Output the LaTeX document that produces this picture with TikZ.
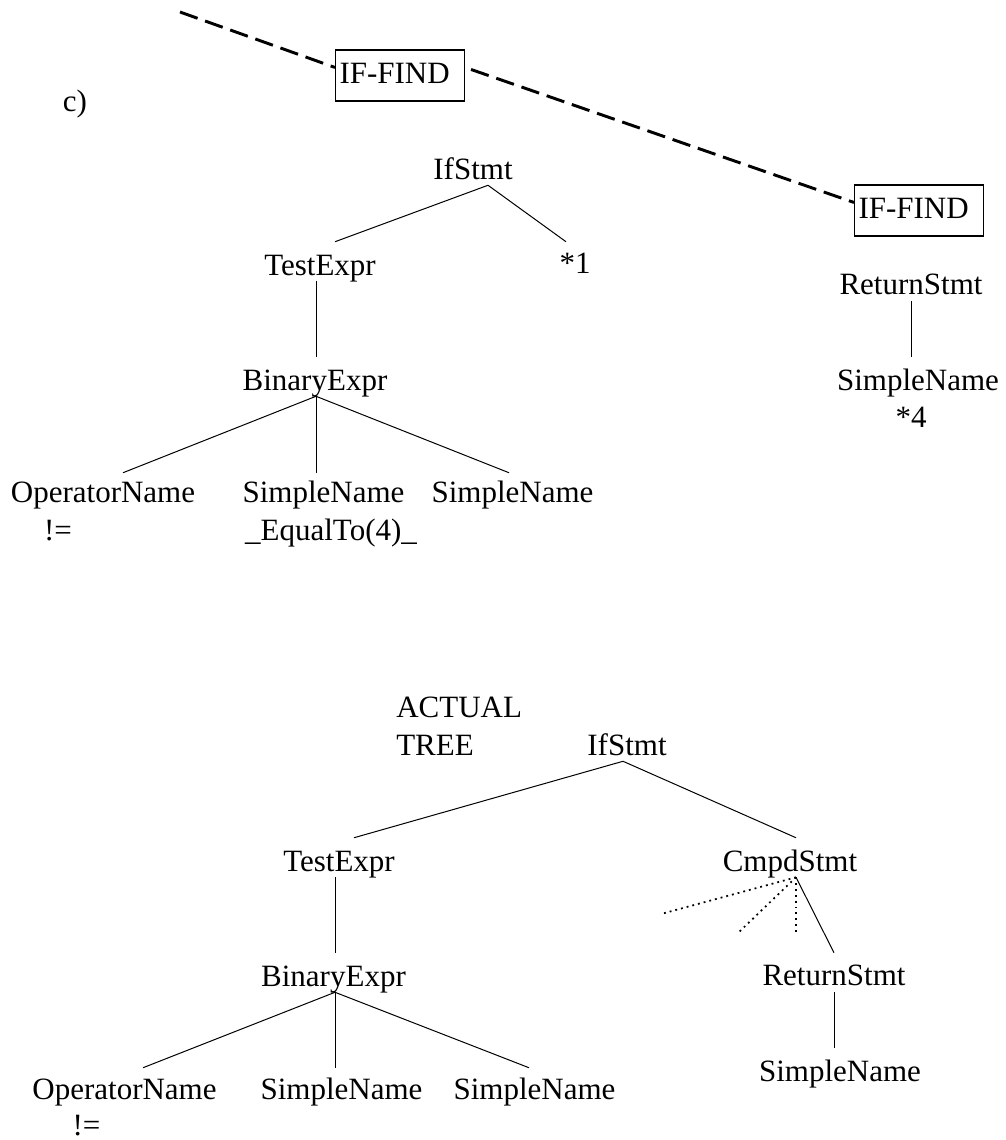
\documentclass[tikz,border=0pt]{standalone}
\usepackage{fontspec}
\setmainfont{Liberation Serif}
\usetikzlibrary{calc}
\begin{document}
\begin{tikzpicture}[x=0.75pt,y=-0.75pt,
  txt/.style={font=\fontsize{23.25pt}{28pt}\selectfont},
  lbl/.style={txt, inner sep=0pt, anchor=base, text height=15.75pt, text depth=4.5pt},
  findbox/.style={txt, draw, line width=0.8pt, anchor=base west, inner xsep=3pt,
    inner ysep=0pt, text width=90.75pt, align=left, text height=24.75pt, text depth=13.5pt},
  findlink/.style={line width=2.2pt, dash pattern=on 14pt off 6pt},
  treeline/.style={line width=0.75pt},
  hidden/.style={line width=1.3pt, dash pattern=on 1.4pt off 3pt}]
\useasboundingbox (0,0) rectangle (1006,1140);

% ---- pattern part ----
\node[lbl] (cl) at (75,111) {c)};
\node[findbox] (b1) at (335,83) {IF-FIND};
\node[findbox] (b2) at (854,218) {IF-FIND};
\coordinate (dstart) at (180,12);
\draw[findlink] (dstart) -- ($(b1.north west)+(0,18)$);
\draw[findlink] ($(b1.north east)+(6,20)$) -- ($(b2.north west)+(0,18)$);

\node[lbl] (ifs1) at (473,179) {IfStmt};
\node[lbl] (te1)  at (320,275) {TestExpr};
\node[lbl] (s1)   at (575,273) {*1};
\node[lbl] (be1)  at (315,390) {BinaryExpr};
\node[lbl] (on1)  at (103,502) {OperatorName};
\node[lbl] (ne1)  at (58,540)  {!=};
\node[lbl] (sn1a) at (323.5,502) {SimpleName};
\node[lbl] (eq1)  at (331,540) {\_EqualTo(4)\_};
\node[lbl] (sn1b) at (512.5,502) {SimpleName};
\node[lbl] (rs1)  at (911,294) {ReturnStmt};
\node[lbl] (sn1c) at (918,390) {SimpleName};
\node[lbl] (s4)   at (911,427) {*4};

\draw[treeline] ($(ifs1.south)+(15,0)$) -- ($(te1.north)+(15,-12)$);
\draw[treeline] ($(ifs1.south)+(15,0)$) -- ($(s1.north)+(-9,-10)$);
\draw[treeline] ($(te1.south)+(-4,0)$) -- ($(be1.north)+(1,-12)$);
\draw[treeline] ($(be1.south)+(1,0)$) -- ($(on1.north)+(20,-8)$);
\draw[treeline] ($(be1.south)+(1,0)$) -- ($(sn1a.north)+(-7.5,-8)$);
\draw[treeline] ($(be1.south)+(1,0)$) -- ($(sn1b.north)+(-3.5,-8)$);
\draw[treeline] ($(rs1.south)+(0,1)$) -- ($(sn1c.north)+(-7,-12)$);

% ---- actual tree ----
\node[lbl, anchor=base west] (act1) at (396,717) {ACTUAL};
\node[lbl, anchor=base west] (act2) at (396,755) {TREE};
\node[lbl] (ifs2) at (627,755) {IfStmt};
\node[lbl] (te2)  at (339,871) {TestExpr};
\node[lbl] (cs2)  at (790,871) {CmpdStmt};
\node[lbl] (be2)  at (333.5,986) {BinaryExpr};
\node[lbl] (rs2)  at (834,985) {ReturnStmt};
\node[lbl] (sn2c) at (840,1081) {SimpleName};
\node[lbl] (on2)  at (124.5,1099) {OperatorName};
\node[lbl] (ne2)  at (86.5,1135) {!=};
\node[lbl] (sn2a) at (341.5,1099) {SimpleName};
\node[lbl] (sn2b) at (534.5,1099) {SimpleName};

\coordinate (d1) at (661,914);
\coordinate (d2) at (739,932);
\coordinate (d3) at (796,932);

\draw[treeline] ($(ifs2.south)+(-4,0)$) -- ($(te2.north)+(15,-12)$);
\draw[treeline] ($(ifs2.south)+(-4,0)$) -- ($(cs2.north)+(6,-12)$);
\draw[treeline] ($(cs2.south)+(6,0)$) -- ($(rs2.north)+(0,-11)$);
\draw[hidden] ($(cs2.south)+(6,0)$) -- (d1);
\draw[hidden] ($(cs2.south)+(6,0)$) -- (d2);
\draw[hidden] ($(cs2.south)+(6,0)$) -- (d3);
\draw[treeline] ($(rs2.south)+(0,1)$) -- ($(sn2c.north)+(-6,-12)$);
\draw[treeline] ($(te2.south)+(-4,0)$) -- ($(be2.north)+(1.5,-12)$);
\draw[treeline] ($(be2.south)+(1.5,0)$) -- ($(on2.north)+(18.5,-10)$);
\draw[treeline] ($(be2.south)+(1.5,0)$) -- ($(sn2a.north)+(-6.5,-10)$);
\draw[treeline] ($(be2.south)+(1.5,0)$) -- ($(sn2b.north)+(-5.5,-10)$);
\end{tikzpicture}
\end{document}
